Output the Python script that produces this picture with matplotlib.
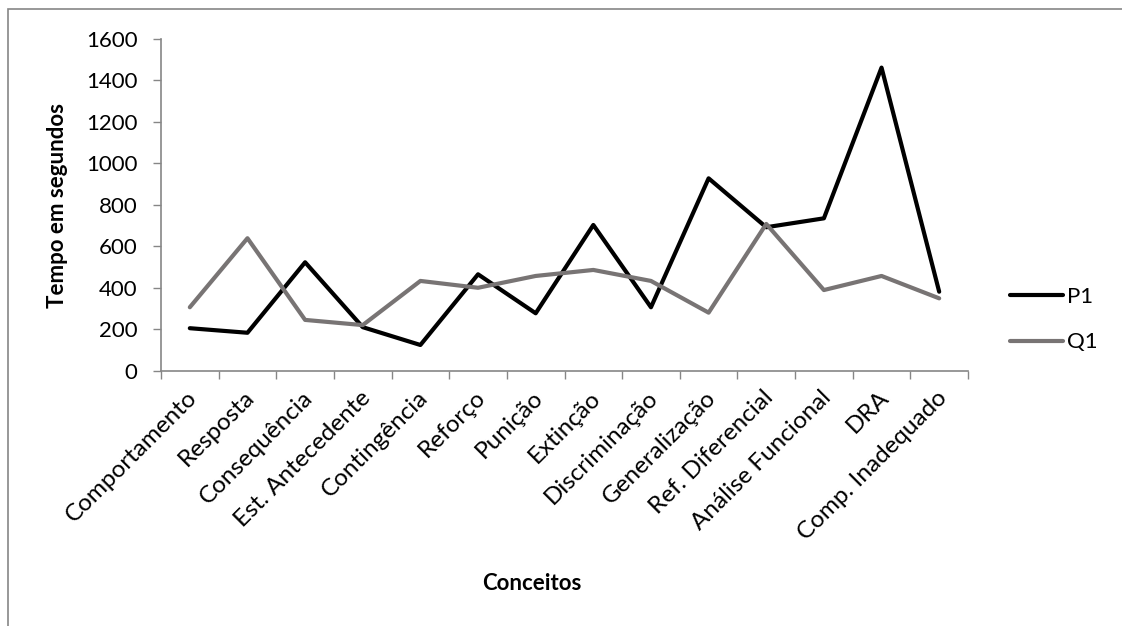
#!/usr/bin/env python3
# -*- coding: utf-8 -*-
"""
Tempo em segundos por conceito (P1 x Q1), estilo gráfico de linhas do Excel.
"""

import matplotlib
matplotlib.use("Agg")
import matplotlib.pyplot as plt
from matplotlib.patches import Rectangle
from matplotlib.transforms import ScaledTranslation

# ==== dados ====
conceitos = [
    "Comportamento", "Resposta", "Consequência", "Est. Antecedente",
    "Contingência", "Reforço", "Punição", "Extinção", "Discriminação",
    "Generalização", "Ref. Diferencial", "Análise Funcional", "DRA",
    "Comp. Inadequado",
]
p1 = [205, 183, 523, 210, 124, 465, 277, 703, 306, 928, 692, 735, 1462, 381]
q1 = [306, 639, 245, 220, 433, 400, 457, 486, 433, 280, 708, 389, 457, 349]
y_ticks = [0, 200, 400, 600, 800, 1000, 1200, 1400, 1600]

FONT = "Lato"
plt.rcParams["font.family"] = [FONT, "DejaVu Sans"]

W, H = 1122, 626
fig = plt.figure(figsize=(W / 100, H / 100), dpi=100)

# borda da área do gráfico (como no Excel)
fig.patches.append(Rectangle((8 / W, -0.1), 1.2, 1 - 9 / H + 0.1,
                             transform=fig.transFigure, fill=False,
                             edgecolor="#868686", linewidth=1.2))

ax = fig.add_axes([161 / W, 1 - 370.7 / H, (968 - 161) / W, (370.7 - 39) / H])

x = list(range(len(conceitos)))
ax.plot(x, p1, color="black", linewidth=3.0, label="P1", solid_capstyle="round")
ax.plot(x, q1, color="#787474", linewidth=3.0, label="Q1", solid_capstyle="round")

ax.set_xlim(-0.5, len(conceitos) - 0.5)
ax.set_ylim(0, 1600)
ax.set_yticks(y_ticks)

ax.set_xticks(x)
ax.set_xticklabels(conceitos, rotation=45, ha="right", va="center",
                   rotation_mode="anchor", fontsize=17.5)
ax.set_xticks([i - 0.5 for i in range(len(conceitos) + 1)], minor=True)
ax.tick_params(axis="x", which="major", length=0, pad=17)
ax.tick_params(axis="x", which="minor", length=6, width=1, color="#868686")
ax.tick_params(axis="y", length=6, width=1, color="#868686", pad=11, labelsize=16)

# pequeno deslocamento para a direita, como no Excel
shift = ScaledTranslation(4 / 100, 0, fig.dpi_scale_trans)
for lbl in ax.get_xticklabels():
    lbl.set_transform(lbl.get_transform() + shift)

for side in ("top", "right"):
    ax.spines[side].set_visible(False)
for side in ("left", "bottom"):
    ax.spines[side].set_color("#868686")
    ax.spines[side].set_linewidth(1.2)

fig.text(58 / W, 1 - 205.5 / H, "Tempo em segundos", rotation=90,
         ha="center", va="center", fontsize=16, fontweight="bold")
fig.text(532 / W, 1 - 583 / H, "Conceitos", ha="center", va="center",
         fontsize=16, fontweight="bold")

ax.legend(loc="center left", bbox_to_anchor=(1001 / W, 1 - 319.5 / H),
          bbox_transform=fig.transFigure, frameon=False, fontsize=16,
          handlelength=2.4, handletextpad=0.15, labelspacing=1.15,
          borderaxespad=0)

fig.savefig("out.png", dpi=100)
